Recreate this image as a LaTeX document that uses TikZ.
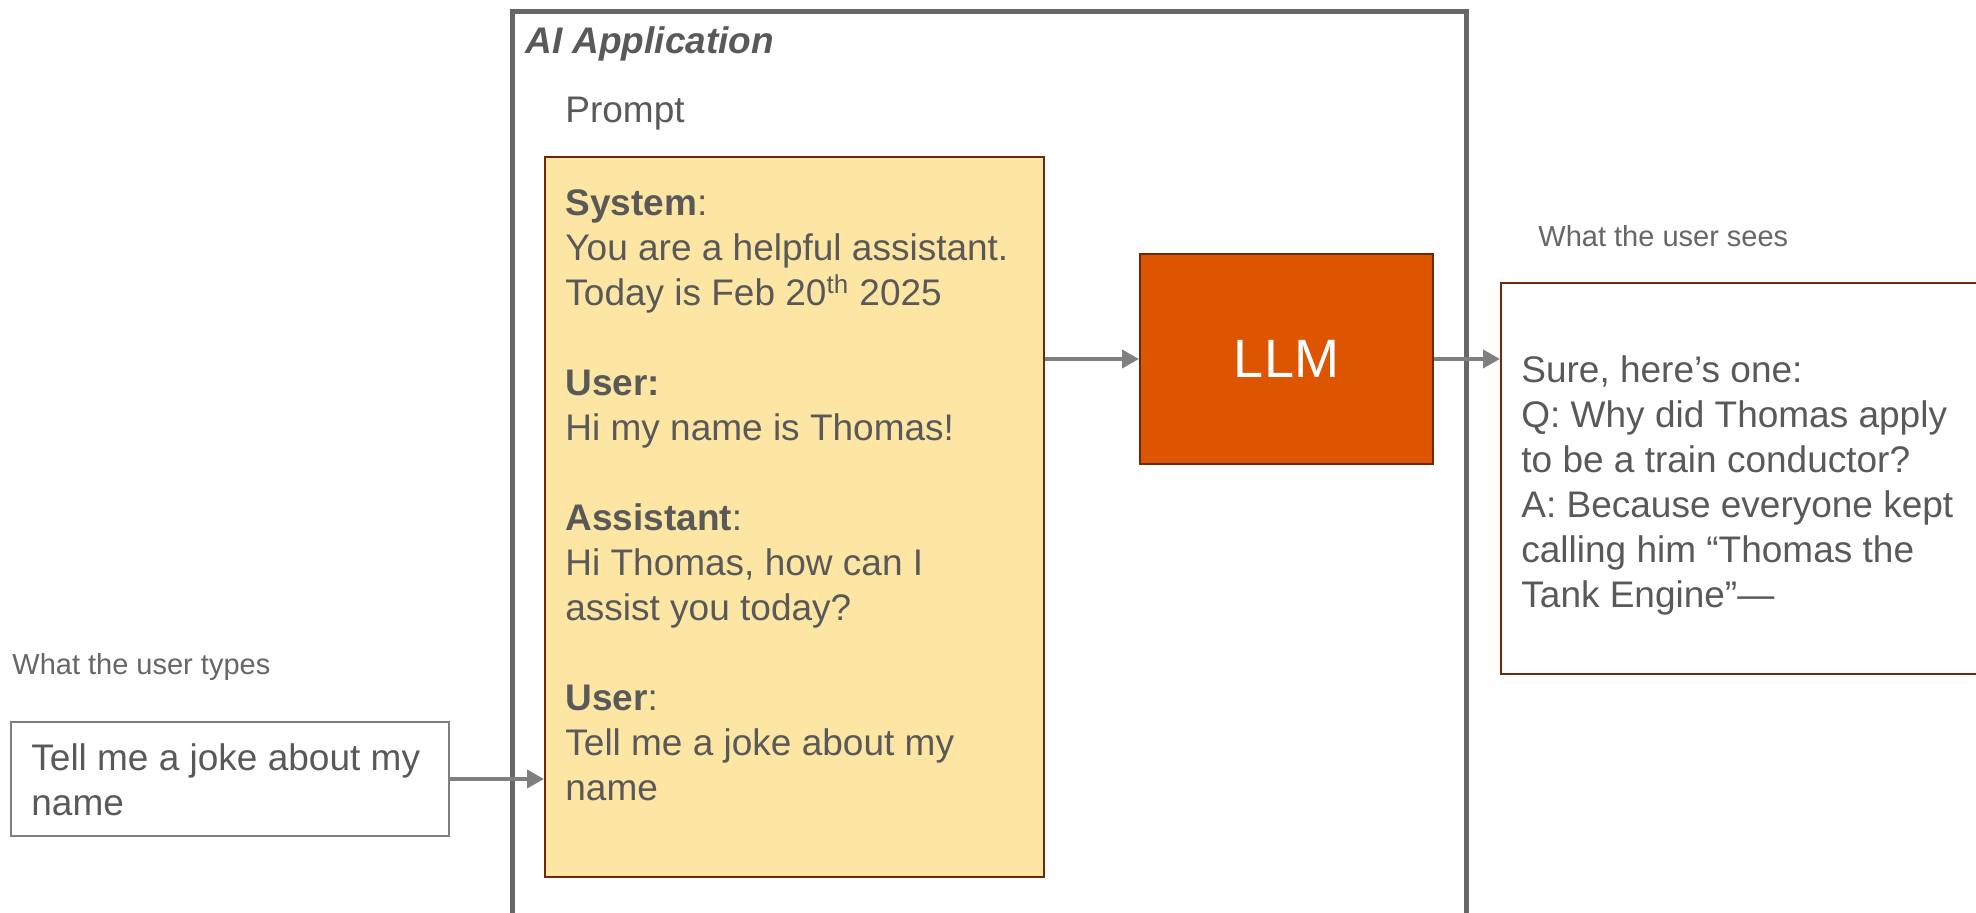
\documentclass[tikz,border=0pt]{standalone}
\usepackage{fontspec}
\setmainfont{Liberation Sans}
\usetikzlibrary{arrows.meta}
\definecolor{txtgray}{HTML}{595959}
\definecolor{lblgray}{HTML}{666666}
\definecolor{framegray}{HTML}{666666}
\definecolor{arrowgray}{HTML}{7F7F7F}
\definecolor{promptfill}{HTML}{FDE5A3}
\definecolor{brownline}{HTML}{6B2A0A}
\definecolor{llmfill}{HTML}{DD5500}
\tikzset{
  panel/.style={draw, rectangle, anchor=north west, inner sep=0pt},
  appframe/.style={panel, draw=framegray, line width=2.5pt},
  promptbox/.style={panel, draw=brownline, fill=promptfill, line width=1pt},
  llmbox/.style={panel, draw=brownline, fill=llmfill, line width=1pt,
    text=white, font=\fontsize{27pt}{32pt}\selectfont},
  outbox/.style={panel, draw=brownline, line width=1pt},
  inbox/.style={panel, draw=arrowgray, line width=1pt},
  bodytext/.style={anchor=base west, inner sep=0pt, text=txtgray,
    font=\fontsize{18.5pt}{22.5pt}\selectfont},
  smalllabel/.style={anchor=base west, inner sep=0pt, text=lblgray,
    font=\fontsize{14.5pt}{17pt}\selectfont},
  flow/.style={draw=arrowgray, line width=2pt,
    -{Triangle[length=8.5pt,width=9pt]}}
}
\begin{document}
\begin{tikzpicture}[x=0.5pt,y=-0.5pt]
  \useasboundingbox (0,0) rectangle (1976,913);

  % application frame (its lower edge runs off the page)
  \node[appframe, minimum width=477pt, minimum height=468pt] (app) at (510,9) {};
  \node[bodytext, font=\fontsize{18.5pt}{22.5pt}\selectfont\bfseries\itshape] (apptitle) at (525,54) {AI Application};
  \node[bodytext] (prompttitle) at (565,123) {Prompt};

  % prompt contents
  \node[promptbox, minimum width=249.5pt, minimum height=360pt] (prompt) at (544,156) {};
  \node[bodytext] (prompttext) at (565,216) {\parbox[t]{235pt}{%
    \textbf{System}:\\
    You are a helpful assistant.\\
    Today is Feb 20\textsuperscript{th} 2025\\[22.5pt]
    \textbf{User:}\\
    Hi my name is Thomas!\\[22.5pt]
    \textbf{Assistant}:\\
    Hi Thomas, how can I\\
    assist you today?\\[22.5pt]
    \textbf{User}:\\
    Tell me a joke about my\\
    name}};

  % model
  \node[llmbox, minimum width=146.5pt, minimum height=105pt] (llm) at (1139,253) {LLM};

  % user input
  \node[smalllabel] (typeslabel) at (12,675) {What the user types};
  \node[inbox, minimum width=219pt, minimum height=57pt] (userin) at (10,721) {};
  \node[bodytext] (userintext) at (31,771) {\parbox[t]{215pt}{%
    Tell me a joke about my\\
    name}};

  % model output as shown to the user
  \node[smalllabel] (seeslabel) at (1538,247) {What the user sees};
  \node[outbox, minimum width=247.5pt, minimum height=195.5pt] (userout) at (1500,282) {};
  \node[bodytext] (userouttext) at (1521,383) {\parbox[t]{240pt}{%
    Sure, here’s one:\\
    Q: Why did Thomas apply\\
    to be a train conductor?\\
    A: Because everyone kept\\
    calling him “Thomas the\\
    Tank Engine”—}};

  % data flow
  \draw[flow] (userin.east) -- (userin.east -| prompt.west);
  \draw[flow] (llm.west -| prompt.east) -- (llm.west);
  \draw[flow] (llm.east) -- (llm.east -| userout.west);
\end{tikzpicture}
\end{document}
